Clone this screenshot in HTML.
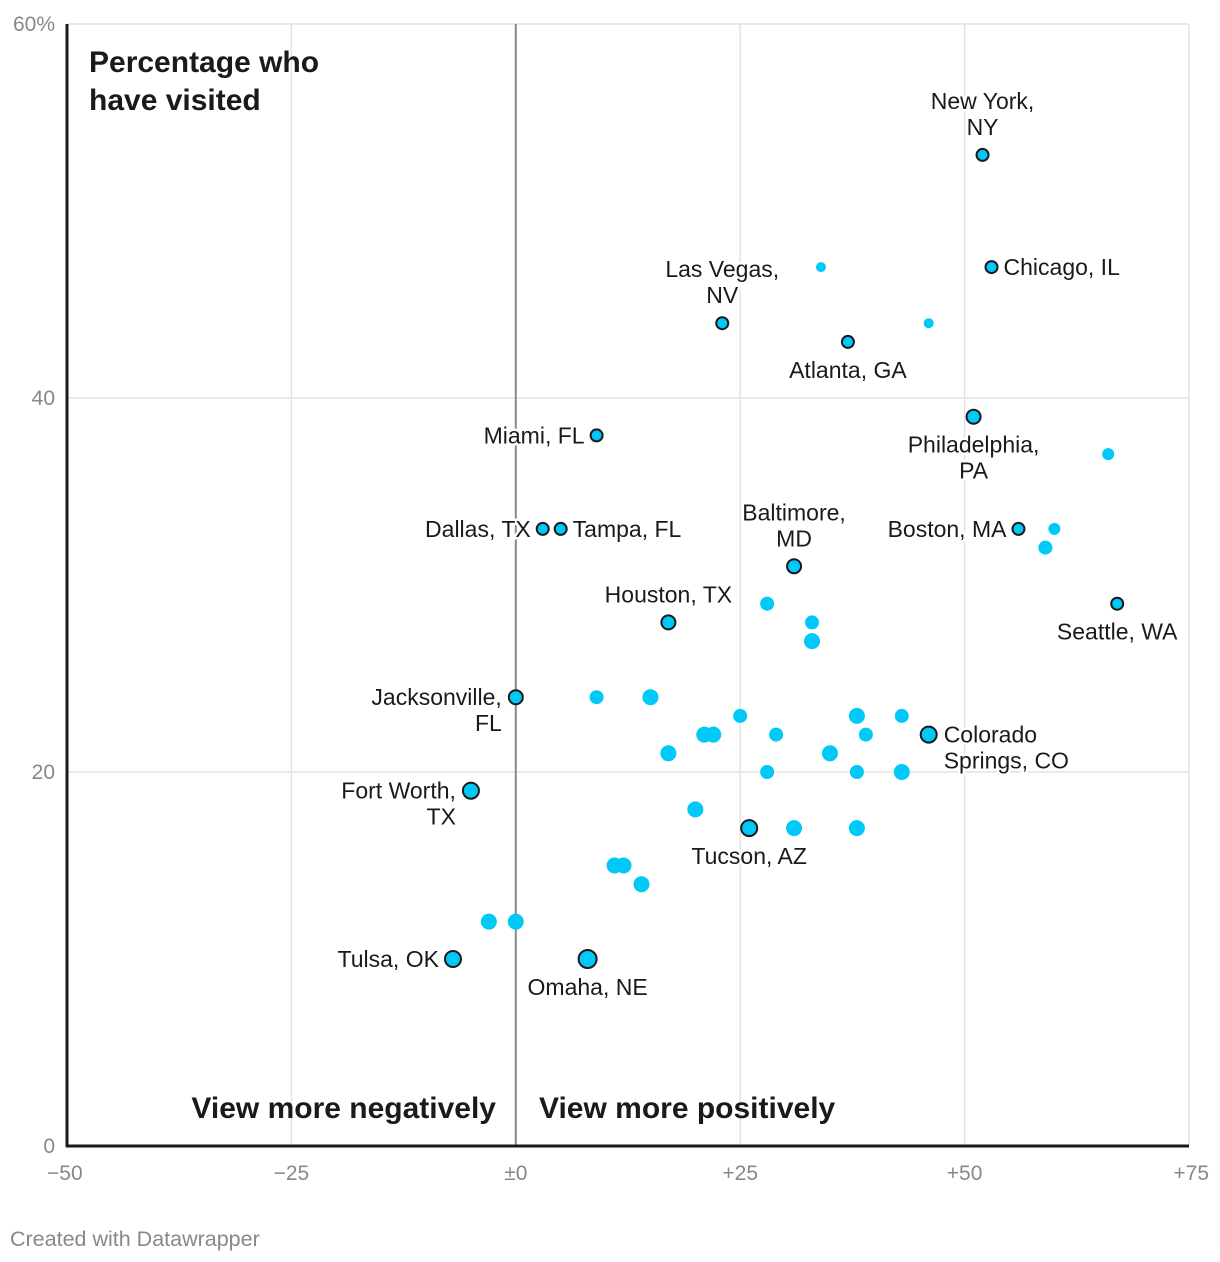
<!DOCTYPE html>
<html><head><meta charset="utf-8"><style>
html,body{margin:0;padding:0;background:#fff;}
svg{display:block;font-family:"Liberation Sans",sans-serif;}
</style></head><body>
<svg id="chart" width="1220" height="1262" viewBox="0 0 1220 1262" xmlns="http://www.w3.org/2000/svg">
<g id="grid"></g>
<g id="axes"></g>
<g id="dots"></g>
<g id="labels"></g>
<text x="89" y="72" font-size="30" font-weight="bold" fill="#1a1a1a">Percentage who</text>
<text x="89" y="110" font-size="30" font-weight="bold" fill="#1a1a1a">have visited</text>
<text x="496" y="1118" font-size="30" font-weight="bold" fill="#1a1a1a" text-anchor="end">View more negatively</text>
<text x="539" y="1118" font-size="30" font-weight="bold" fill="#1a1a1a">View more positively</text>
<text x="10" y="1246" font-size="21.5" fill="#888">Created with Datawrapper</text>
</svg>
<script>
const xVals=[52,53,23,37,51,9,3,5,31,56,67,17,0,46,-5,26,-7,8,34,46,66,60,59,28,33,33,9,15,25,21,22,29,38,39,43,17,35,28,38,43,20,31,38,11,12,14,-3,0];
const yVals=[53,47,44,43,39,38,33,33,31,33,29,28,24,22,19,17,10,10,47,44,37,33,32,29,28,27,24,24,23,22,22,22,23,22,23,21,21,20,20,20,18,17,17,15,15,14,12,12];
const sizes=[6,6,6,6,7,6,6,6,7,6,6,7,7,8,8,8,8,9,5,5,6,6,7,7,7,8,7,8,7,8,8,7,8,7,7,8,8,7,7,8,8,8,8,8,8,8,8,8];
const labeled=[1,1,1,1,1,1,1,1,1,1,1,1,1,1,1,1,1,1,0,0,0,0,0,0,0,0,0,0,0,0,0,0,0,0,0,0,0,0,0,0,0,0,0,0,0,0,0,0];
const labelText=[["New York,","NY"],["Chicago, IL"],["Las Vegas,","NV"],["Atlanta, GA"],["Philadelphia,","PA"],["Miami, FL"],["Dallas, TX"],["Tampa, FL"],["Baltimore,","MD"],["Boston, MA"],["Seattle, WA"],["Houston, TX"],["Jacksonville,","FL"],["Colorado","Springs, CO"],["Fort Worth,","TX"],["Tucson, AZ"],["Tulsa, OK"],["Omaha, NE"]];
const labelPos=["top","right","top","bottom","bottom","left","left","right","top","left","bottom","top","left-down","right-down","left-down","bottom","left","bottom"];
const xTicks=[-50,-25,0,25,50,75];
const xTickLabels=["−50","−25","±0","+25","+50","+75"];
const yTicks=[0,20,40,60];
const yTickLabels=["0","20","40","60%"];

const X0=67,X1=1189,Y0=1146,Y1=24;
const xs=v=>X0+(v+50)/125*(X1-X0);
const ys=v=>Y0-v/60*(Y0-Y1);
const NS="http://www.w3.org/2000/svg";
function mk(tag,attrs,parent){const e=document.createElementNS(NS,tag);for(const k in attrs)e.setAttribute(k,attrs[k]);parent.appendChild(e);return e;}
const grid=document.getElementById('grid'),axes=document.getElementById('axes'),dots=document.getElementById('dots'),labels=document.getElementById('labels');
yTicks.forEach((t,i)=>{
  if(t>0){const l=mk('line',{x1:X0,x2:X1,y1:ys(t),y2:ys(t),stroke:'#e3e3e3','stroke-width':1.5},grid);
  
  }
  const tx=mk('text',{x:55,y:ys(t)+7,'font-size':21,fill:'#888','text-anchor':'end'},axes);
  tx.textContent=yTickLabels[i];
  
  
});
xTicks.forEach((t,i)=>{
  if(t>-50){const l=mk('line',{x1:xs(t),x2:xs(t),y1:Y1,y2:Y0,stroke:t===0?'#888':'#e3e3e3','stroke-width':t===0?2:1.5},grid);
  
  }
  const tx=mk('text',{x:xs(t),y:1180,'font-size':21,fill:'#888','text-anchor':i===0?'start':(i===xTicks.length-1?'end':'middle')},axes);
  if(i===0)tx.setAttribute('x',xs(t)-20);
  if(i===xTicks.length-1)tx.setAttribute('x',xs(t)+20);
  tx.textContent=xTickLabels[i];
  
  
});
const ax1=mk('line',{x1:X0,x2:X0,y1:Y1,y2:Y0+1,stroke:'#1a1a1a','stroke-width':3},axes);


const ax2=mk('line',{x1:X0-1,x2:X1,y1:Y0,y2:Y0,stroke:'#1a1a1a','stroke-width':3},axes);



xVals.forEach((v,i)=>{
  const cx=xs(v),cy=ys(yVals[i]);
  const c=mk('circle',{cx:cx,cy:cy,r:sizes[i],fill:'#00c9f7'},dots);
  if(labeled[i]){c.setAttribute('stroke','#1a1a1a');c.setAttribute('stroke-width',2);}
  
  
});
xVals.forEach((v,i)=>{
  if(!labeled[i])return;
  const cx=xs(v),cy=ys(yVals[i]),r=sizes[i];
  const lines=labelText[i],p=labelPos[i];
  let anchor='middle',tx=cx,firstY;
  if(p==='top'){firstY=cy-54;}
  else if(p==='bottom'){firstY=cy+28;}
  else if(p==='left'){anchor='end';tx=cx-r-6;firstY=cy;}
  else if(p==='right'){anchor='start';tx=cx+r+6;firstY=cy;}
  else if(p==='left-down'){anchor='end';tx=cx-r-7;firstY=cy;}
  else if(p==='right-down'){anchor='start';tx=cx+r+7;firstY=cy;}
  if(p==='top'&&lines.length===1)firstY=cy-28;
  lines.forEach((ln,j)=>{
    const t=mk('text',{x:tx,y:firstY+j*26+8,'font-size':23,fill:'#1a1a1a','text-anchor':anchor,stroke:'#fff','stroke-width':5,'paint-order':'stroke','stroke-linejoin':'round'},labels);
    t.textContent=ln;
    
    
  });
});
</script>
</body></html>
